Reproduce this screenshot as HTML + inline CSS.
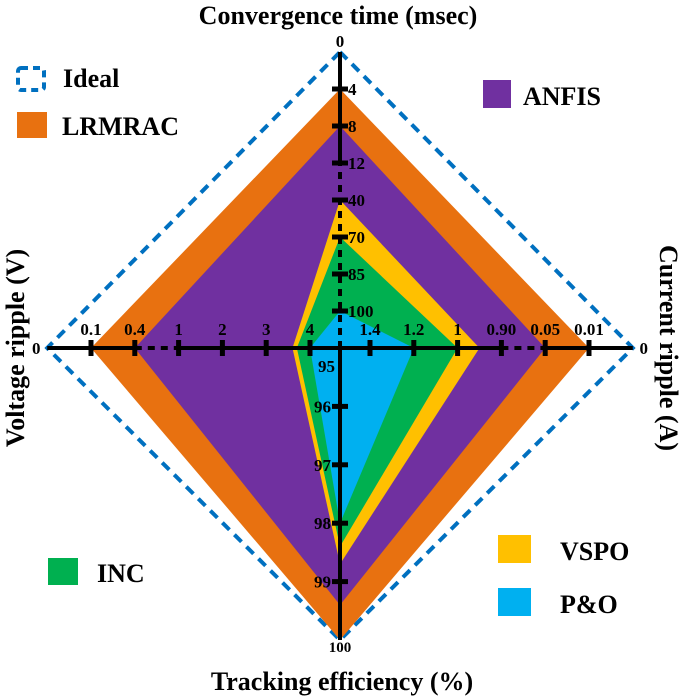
<!DOCTYPE html>
<html><head><meta charset="utf-8"><style>
body{margin:0;background:#fff;}
svg{display:block;font-family:"Liberation Serif",serif;font-weight:bold;}
</style></head><body>
<svg id="chart" width="685" height="697" viewBox="0 0 685 697"></svg>
<script>
const topTicks=[100,85,70,40,12,8,4,0];
const rightTicks=[1.4,1.2,1,0.90,0.05,0.01,0];
const bottomTicks=[95,96,97,98,99,100];
const leftTicks=[4,3,2,1,0.4,0.1,0];
const rightLabels=["1.4","1.2","1","0.90","0.05","0.01","0"];
const seriesNames=["Ideal","LRMRAC","ANFIS","VSPO","INC","P&O"];
const seriesTop=[0,4,8,40,70,100];
const seriesRight=[0,0.01,0.05,0.95,1,1.2];
const seriesBottom=[100,100,99.4,98.7,98.4,98];
const seriesLeft=[0,0.1,0.4,3.6,3.7,4];
const colors=["none","#E87110","#7030A0","#FFC000","#00B050","#00B0F0"];
const CX=340,CY=348;
const svg=document.getElementById('chart');
const NS="http://www.w3.org/2000/svg";
function mk(t,a,p){const e=document.createElementNS(NS,t);for(const k in a)e.setAttribute(k,a[k]);(p||svg).appendChild(e);return e;}
function interp(v,ticks,dists){
  for(let i=0;i<ticks.length-1;i++){const a=ticks[i],b=ticks[i+1];
    if((v-a)*(v-b)<=0){return dists[i]+(dists[i+1]-dists[i])*(a===b?0:(v-a)/(b-a));}}
  return v===ticks[0]?dists[0]:dists[dists.length-1];
}
const topD=topTicks.map((_,i)=>37*(i+1));
const sideD=rightTicks.map((_,i)=>30+43.8*i);
const botD=bottomTicks.map((_,i)=>58.4*i);
function topY(v){return CY-interp(v,topTicks,topD);}
function rightX(v){return CX+interp(v,rightTicks,sideD);}
function botY(v){const d=interp(v,bottomTicks,botD);return CY+d;}
function leftX(v){return CX-interp(v,leftTicks,sideD);}
for(let s=0;s<seriesNames.length;s++){
  const pts=[[CX,topY(seriesTop[s])],[rightX(seriesRight[s]),CY],[CX,botY(seriesBottom[s])],[leftX(seriesLeft[s]),CY]];
  const p=mk('polygon',{points:pts.map(q=>q.join(',')).join(' ')});
  if(s===0){p.setAttribute('fill','none');p.setAttribute('stroke','#0070C0');p.setAttribute('stroke-width','4');p.setAttribute('stroke-dasharray','10,7');}
  else p.setAttribute('fill',colors[s]);
  
  
}
function line(x1,y1,x2,y2,dash,name){const l=mk('line',{x1,y1,x2,y2,stroke:'#000','stroke-width':4});if(dash)l.setAttribute('stroke-dasharray','7,6');

}
line(CX,CY,CX,topY(12),true,'top-axis-dashed');
line(CX,topY(12),CX,topY(0),false,'top-axis');
line(CX,CY,CX,botY(100),false,'bottom-axis');
line(leftX(0),CY,leftX(0.4),CY,false,'left-axis-outer');
line(leftX(0.4),CY,leftX(1),CY,true,'left-axis-dashed');
line(leftX(1),CY,CX,CY,false,'left-axis-inner');
line(CX,CY,rightX(0.90),CY,false,'right-axis-inner');
line(rightX(0.90),CY,rightX(0.05),CY,true,'right-axis-dashed');
line(rightX(0.05),CY,rightX(0),CY,false,'right-axis-outer');
function txt(x,y,s,size,anchor,name){const t=mk('text',{x,y,'font-size':size,'text-anchor':anchor||'middle',fill:'#000'});t.textContent=s;

return t;}
topTicks.forEach((v,i)=>{const y=topY(v);if(v!==0){mk('line',{x1:CX-8,y1:y,x2:CX+8,y2:y,stroke:'#000','stroke-width':5});txt(CX+8,y+6,String(v),17,'start','top-tick-label');}else txt(CX,y-5,'0',17,'middle','top-tick-label');});
rightTicks.forEach((v,i)=>{const x=rightX(v);if(v!==0){mk('line',{x1:x,y1:CY-8,x2:x,y2:CY+8,stroke:'#000','stroke-width':5});txt(x,CY-13,rightLabels[i],17,'middle','right-tick-label');}else txt(x+11,CY+6,'0',17,'middle','right-tick-label');});
leftTicks.forEach((v,i)=>{const x=leftX(v);if(v!==0){mk('line',{x1:x,y1:CY-8,x2:x,y2:CY+8,stroke:'#000','stroke-width':5});txt(x,CY-13,String(v),17,'middle','left-tick-label');}else txt(x-11,CY+6,'0',17,'middle','left-tick-label');});
bottomTicks.forEach((v,i)=>{const y=botY(v);if(i===0){txt(CX-5,CY+24,'95',17,'end','bottom-tick-label');}else if(v!==100){mk('line',{x1:CX-8,y1:y,x2:CX+8,y2:y,stroke:'#000','stroke-width':5});txt(CX-9,y+6,String(v),17,'end','bottom-tick-label');}else txt(CX,y+12,'100',15,'middle','bottom-tick-label');});
txt(338,24,'Convergence time (msec)',26,'middle','top-axis-title');
txt(342,690,'Tracking efficiency (%)',26,'middle','bottom-axis-title');
const lt=txt(0,0,'Voltage ripple (V)',26,'middle','left-axis-title');lt.setAttribute('transform','translate(24,348) rotate(-90)');
const rt=txt(0,0,'Current ripple (A)',26,'middle','right-axis-title');rt.setAttribute('transform','translate(660,348) rotate(90)');
function leg(x,y,w,h,col,label,tx,name){const r=mk('rect',{x,y,width:w,height:h,fill:col==='none'?'none':col});
if(col==='none'){r.setAttribute('stroke','#0070C0');r.setAttribute('stroke-width','4');r.setAttribute('stroke-dasharray','7,5');r.setAttribute('rx','3');}


txt(tx,y+h-3,label,26,'start',name+'-label');}
leg(18,68,26,22,'none','Ideal',63,'legend-ideal');
leg(17,112,30,26,colors[1],'LRMRAC',62,'legend-lrmrac');
leg(483,80,28,28,colors[2],'ANFIS',523,'legend-anfis');
leg(48,558,30,27,colors[4],'INC',97,'legend-inc');
leg(498,535,33,28,colors[3],'VSPO',560,'legend-vspo');
leg(498,588,33,28,colors[5],'P&O',560,'legend-po');
</script>
</body></html>
